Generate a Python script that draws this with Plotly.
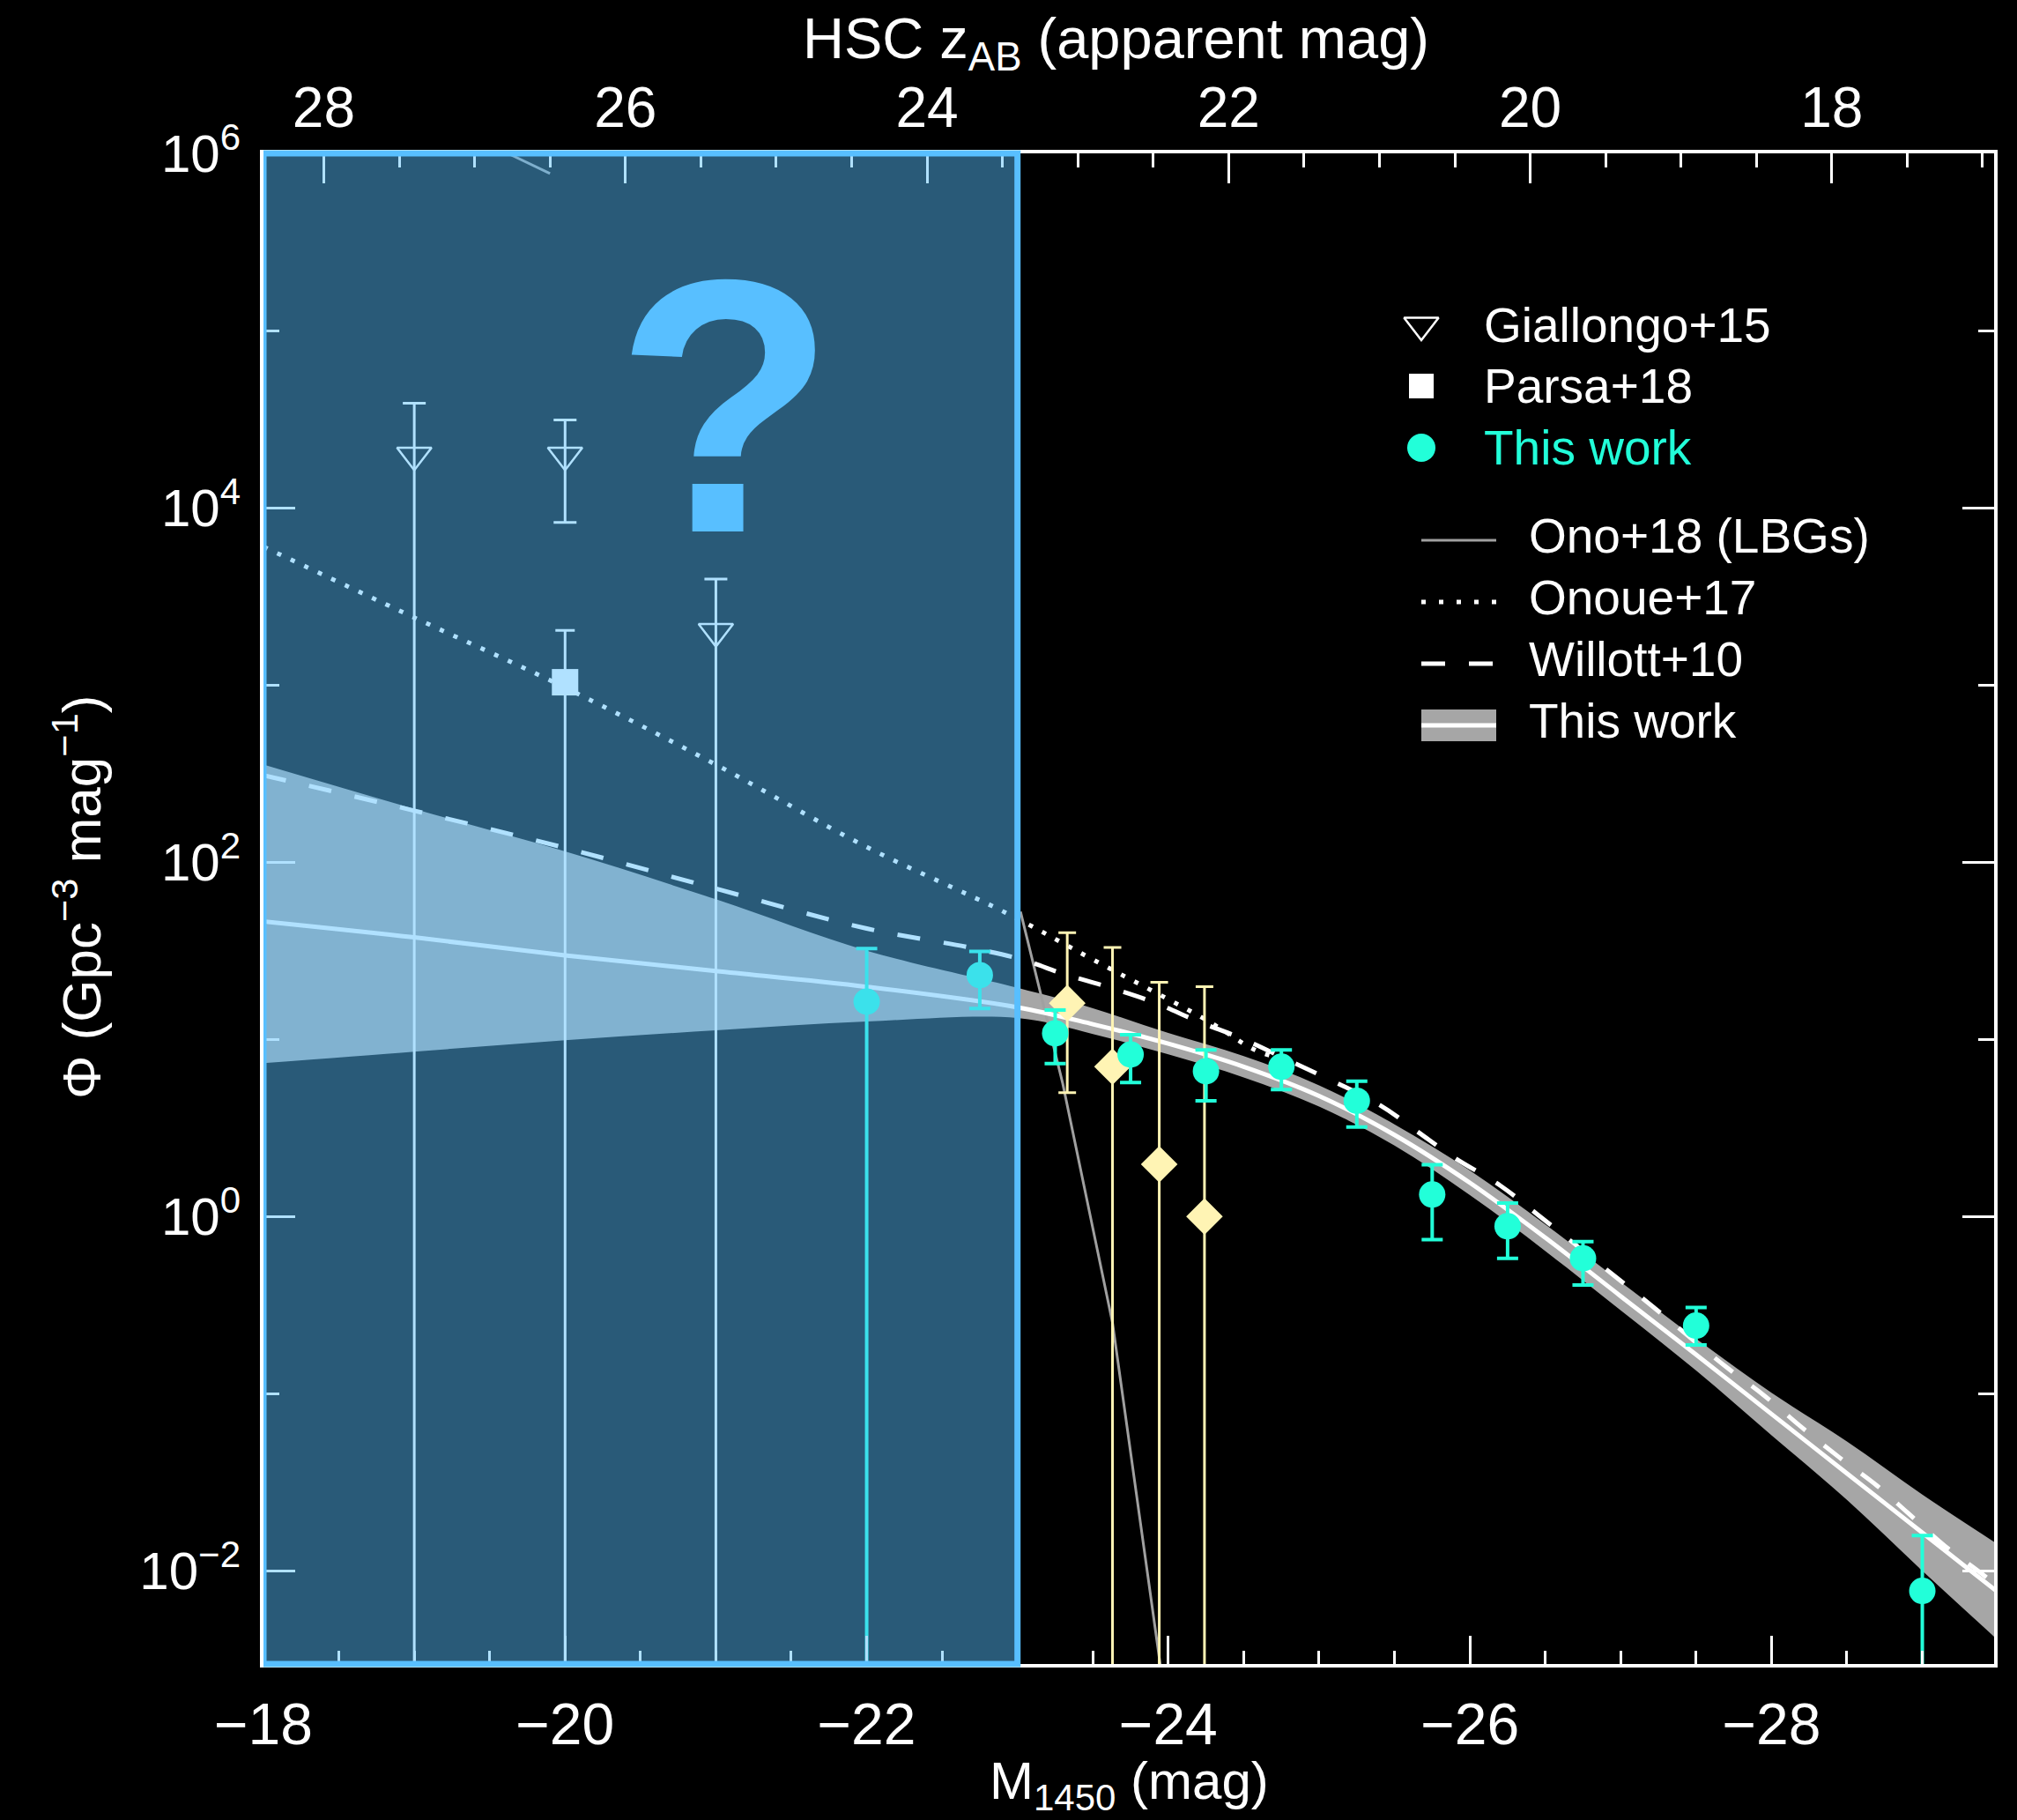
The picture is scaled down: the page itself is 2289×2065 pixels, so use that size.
import plotly.graph_objects as go

# ---------------- data ----------------
# This work: binned quasar LF (cyan)
tw_M   = [-22.0, -22.75, -23.25, -23.75, -24.25, -24.75, -25.25, -25.75, -26.25, -26.75, -27.5, -29.0]
tw_phi = [16.3, 23.0, 10.8, 8.2, 6.6, 7.0, 4.5, 1.33, 0.88, 0.58, 0.242, 0.0077]
tw_hi  = [32.5, 31.3, 14.6, 10.6, 8.7, 8.7, 5.8, 1.96, 1.19, 0.72, 0.306, 0.0158]
tw_lo  = [0.0, 14.9, 7.3, 5.7, 4.5, 5.2, 3.2, 0.74, 0.58, 0.41, 0.188, 0.0]

# unlabeled yellow diamonds
yd_M   = [-23.33, -23.63, -23.94, -24.24]
yd_phi = [16.0, 7.0, 1.97, 1.0]
yd_hi  = [40.0, 33.0, 21.0, 19.8]
yd_lo  = [5.0, 0.0, 0.0, 0.0]

# Giallongo+15
gi_M   = [-19.0, -20.0, -21.0]
gi_phi = [19800.0, 19800.0, 2000.0]
gi_hi  = [38900.0, 31300.0, 3960.0]
gi_lo  = [0.0, 8260.0, 0.0]

# Parsa+18
pa_M   = [-20.0]
pa_phi = [1035.0]
pa_hi  = [2030.0]
pa_lo  = [0.0]

# Onoue+17 (dotted), log10(phi)
on_M   = [-18.0, -19.0, -20.0, -21.0, -22.0, -22.92, -23.5, -24.25, -24.6, -24.82]
on_lg  = [3.78, 3.38, 2.985, 2.55, 2.085, 1.715, 1.45, 1.11, 0.93, 0.88]

# Willott+10 (dashed), log10(phi)
wi_M   = [-18.0, -19.0, -20.0, -21.0, -22.0, -22.7, -23.05, -23.3, -23.6, -23.9, -24.2, -24.5,
          -24.8, -25.4, -25.65, -25.9, -26.2, -26.45, -26.95, -27.2, -27.7, -27.95, -28.2,
          -28.45, -28.7, -28.9, -29.15, -29.4, -29.5]
wi_lg  = [2.49, 2.29, 2.08, 1.85, 1.625, 1.515, 1.445, 1.37, 1.295, 1.21, 1.10, 1.0,
          0.88, 0.63, 0.48, 0.33, 0.175, 0.01, -0.33, -0.50, -0.85, -1.01, -1.19,
          -1.36, -1.52, -1.67, -1.86, -2.02, -2.09]

# Ono+18 LBG LF (grey), log10(phi); None = gap
ono_M  = [-19.62, -19.90, None, -23.02, -23.30, -23.63, -23.95]
ono_lg = [6.0, 5.886, None, 1.72, 0.75, -0.60, -2.55]

# This work: fitted LF with uncertainty band, log10(phi)
bd_M   = [-18.0, -19.0, -20.0, -21.0, -22.0, -23.0, -23.5, -24.0, -24.5, -25.0, -25.5, -26.0,
          -26.5, -27.0, -27.5, -28.0, -28.5, -29.0, -29.5]
bd_top = [2.55, 2.30, 2.06, 1.79, 1.50, 1.29, 1.175, 1.035, 0.905, 0.74, 0.52, 0.26,
          -0.045, -0.37, -0.69, -0.995, -1.27, -1.57, -1.85]
bd_bot = [0.865, 0.93, 0.995, 1.05, 1.10, 1.12, 1.03, 0.915, 0.785, 0.62, 0.40, 0.12,
          -0.195, -0.53, -0.87, -1.235, -1.60, -2.00, -2.39]
bd_mid = [1.665, 1.575, 1.473, 1.385, 1.296, 1.18, 1.085, 0.975, 0.845, 0.68, 0.46, 0.19,
          -0.12, -0.45, -0.78, -1.115, -1.45, -1.785, -2.12]

# axes / ticks
x_ticks = [-18, -20, -22, -24, -26, -28]
top_ticks = [28, 26, 24, 22, 20, 18]
y_ticks_exp = [-2, 0, 2, 4, 6]
DIST_MOD = 46.4            # apparent = absolute + DIST_MOD
X_RANGE = [-18.0, -29.476]
Y_RANGE = [-2.526, 6.0]
UNKNOWN_RANGE = [-18.0, -23.0]

legend_items = ["Giallongo+15", "Parsa+18", "This work", "Ono+18 (LBGs)", "Onoue+17", "Willott+10", "This work"]

# ---------------- style ----------------
FONT = "Liberation Sans"
WHITE = "#ffffff"
CYAN = "#22ffd9"
YELLOW = "#fff4b4"
GREY_BAND = "#a6a6a6"
GREY_LINE = "#a0a0a0"
BOX_EDGE = "#58bfff"

def p10(v):
    return None if v is None else 10 ** v

def errs(phi, hi, lo):
    plus = [h - p for p, h in zip(phi, hi)]
    minus = [p - l for p, l in zip(phi, lo)]
    return plus, minus

fig = go.Figure()

# band
fig.add_trace(go.Scatter(x=bd_M, y=[p10(v) for v in bd_bot], mode="lines", line_shape="spline",
                         line=dict(width=0, color=GREY_BAND), showlegend=False, hoverinfo="skip"))
fig.add_trace(go.Scatter(x=bd_M, y=[p10(v) for v in bd_top], mode="lines", fill="tonexty", line_shape="spline",
                         fillcolor=GREY_BAND, line=dict(width=0, color=GREY_BAND),
                         showlegend=False, hoverinfo="skip"))

# model curves
fig.add_trace(go.Scatter(x=ono_M, y=[p10(v) for v in ono_lg], mode="lines", connectgaps=False,
                         line=dict(color=GREY_LINE, width=3), name="Ono+18 (LBGs)", showlegend=False))
fig.add_trace(go.Scatter(x=bd_M, y=[p10(v) for v in bd_mid], mode="lines", line_shape="spline",
                         line=dict(color=WHITE, width=5), name="This work", showlegend=False))
fig.add_trace(go.Scatter(x=on_M, y=[p10(v) for v in on_lg], mode="lines", line_shape="spline",
                         line=dict(color=WHITE, width=5, dash="5px,12px"), name="Onoue+17", showlegend=False))
fig.add_trace(go.Scatter(x=wi_M, y=[p10(v) for v in wi_lg], mode="lines", line_shape="spline",
                         line=dict(color=WHITE, width=5, dash="26px,27px"), name="Willott+10", showlegend=False))

# data points
pl, mi = errs(gi_phi, gi_hi, gi_lo)
fig.add_trace(go.Scatter(x=gi_M, y=gi_phi, mode="markers", name="Giallongo+15", showlegend=False,
                         marker=dict(symbol="triangle-down-open", size=34, color=WHITE, line=dict(width=2.5, color=WHITE)),
                         error_y=dict(type="data", array=pl, arrayminus=mi, color=WHITE, thickness=3, width=13)))
pl, mi = errs(pa_phi, pa_hi, pa_lo)
fig.add_trace(go.Scatter(x=pa_M, y=pa_phi, mode="markers", name="Parsa+18", showlegend=False,
                         marker=dict(symbol="square", size=30, color=WHITE),
                         error_y=dict(type="data", array=pl, arrayminus=mi, color=WHITE, thickness=3, width=11)))
pl, mi = errs(yd_phi, yd_hi, yd_lo)
fig.add_trace(go.Scatter(x=yd_M, y=yd_phi, mode="markers", showlegend=False,
                         marker=dict(symbol="diamond", size=32, color=YELLOW),
                         error_y=dict(type="data", array=pl, arrayminus=mi, color=YELLOW, thickness=3, width=10)))
pl, mi = errs(tw_phi, tw_hi, tw_lo)
fig.add_trace(go.Scatter(x=tw_M, y=tw_phi, mode="markers", name="This work", showlegend=False,
                         marker=dict(symbol="circle", size=30, color=CYAN),
                         error_y=dict(type="data", array=pl, arrayminus=mi, color=CYAN, thickness=4, width=12)))

# invisible trace so that the top (apparent-magnitude) axis is drawn
fig.add_trace(go.Scatter(x=[X_RANGE[0] + DIST_MOD, X_RANGE[1] + DIST_MOD], y=[1.0, 1.0], xaxis="x2", yaxis="y",
                         mode="markers", marker=dict(opacity=0, size=1), showlegend=False, hoverinfo="skip"))

# ---------------- manual legend (pixel-space overlay axes) ----------------
LX0, LX1 = 1613, 1698
TX_SYM, TX_LINE = 1682, 1733
rows_sym = [369, 438, 508]
rows_line = [613, 683, 753, 823]
fig.add_trace(go.Scatter(x=[LX0], y=[rows_sym[0]], xaxis="x3", yaxis="y3", mode="markers", showlegend=False,
                         hoverinfo="skip", marker=dict(symbol="triangle-down-open", size=34, color=WHITE,
                                                       line=dict(width=2.5, color=WHITE))))
fig.add_trace(go.Scatter(x=[LX0], y=[rows_sym[1]], xaxis="x3", yaxis="y3", mode="markers", showlegend=False,
                         hoverinfo="skip", marker=dict(symbol="square", size=28, color=WHITE)))
fig.add_trace(go.Scatter(x=[LX0], y=[rows_sym[2]], xaxis="x3", yaxis="y3", mode="markers", showlegend=False,
                         hoverinfo="skip", marker=dict(symbol="circle", size=32, color=CYAN)))
fig.add_trace(go.Scatter(x=[LX0, LX1], y=[rows_line[0]] * 2, xaxis="x3", yaxis="y3", mode="lines",
                         showlegend=False, hoverinfo="skip", line=dict(color=GREY_LINE, width=3)))
fig.add_trace(go.Scatter(x=[LX0, LX1], y=[rows_line[1]] * 2, xaxis="x3", yaxis="y3", mode="lines",
                         showlegend=False, hoverinfo="skip", line=dict(color=WHITE, width=5, dash="5px,15px")))
fig.add_trace(go.Scatter(x=[LX0, LX1], y=[rows_line[2]] * 2, xaxis="x3", yaxis="y3", mode="lines",
                         showlegend=False, hoverinfo="skip", line=dict(color=WHITE, width=5, dash="27px,27px")))
fig.add_trace(go.Scatter(x=[LX0, LX1], y=[rows_line[3]] * 2, xaxis="x3", yaxis="y3", mode="lines",
                         showlegend=False, hoverinfo="skip", line=dict(color=GREY_BAND, width=36)))
fig.add_trace(go.Scatter(x=[LX0, LX1], y=[rows_line[3]] * 2, xaxis="x3", yaxis="y3", mode="lines",
                         showlegend=False, hoverinfo="skip", line=dict(color=WHITE, width=5)))

annotations = []
leg_text_pos = [(TX_SYM, rows_sym[0], WHITE), (TX_SYM, rows_sym[1], WHITE), (TX_SYM, rows_sym[2], CYAN),
                (TX_LINE, rows_line[0] - 5, WHITE), (TX_LINE, rows_line[1] - 5, WHITE),
                (TX_LINE, rows_line[2] - 5, WHITE), (TX_LINE, rows_line[3] - 5, WHITE)]
for txt, (tx, ty, col) in zip(legend_items, leg_text_pos):
    annotations.append(dict(xref="x3", yref="y3", x=tx, y=ty, text=txt, showarrow=False,
                            xanchor="left", yanchor="middle", font=dict(family=FONT, size=55, color=col)))

# axis titles
annotations.append(dict(xref="paper", yref="paper", x=0.5, y=-0.080, text="M<sub>1450</sub> (mag)",
                        showarrow=False, xanchor="center", yanchor="middle",
                        font=dict(family=FONT, size=60, color=WHITE)))
annotations.append(dict(xref="paper", yref="paper", x=0.4925, y=1.073, text="HSC z<sub>AB</sub> (apparent mag)",
                        showarrow=False, xanchor="center", yanchor="middle",
                        font=dict(family=FONT, size=65, color=WHITE)))
annotations.append(dict(xref="paper", yref="paper", x=-0.1074, y=0.5076, text="Φ (Gpc<sup>−3</sup> mag<sup>−1</sup>)",
                        showarrow=False, xanchor="center", yanchor="middle", textangle=-90,
                        font=dict(family=FONT, size=62, color=WHITE)))
# question mark
annotations.append(dict(xref="x", yref="y", x=-21.06, y=4.57, text="?", showarrow=False,
                        xanchor="center", yanchor="middle",
                        font=dict(family=FONT, size=410, color=BOX_EDGE, weight="bold")))

shapes = [dict(type="rect", xref="x", yref="paper", x0=UNKNOWN_RANGE[0], x1=UNKNOWN_RANGE[1], y0=0, y1=1,
               fillcolor="rgba(88,191,255,0.47)", line=dict(color=BOX_EDGE, width=7), layer="above")]

def half_steps(a, b):
    out = []
    v = a
    while v >= b - 1e-9:
        out.append(round(v, 2))
        v -= 0.5
    return out

tick_common = dict(ticks="inside", tickcolor=WHITE, tickwidth=3, showgrid=False, zeroline=False,
                   showline=True, linecolor=WHITE, linewidth=4)

fig.update_layout(
    width=2289, height=2065,
    margin=dict(l=299, r=26, t=174, b=177),
    paper_bgcolor="black", plot_bgcolor="black",
    font=dict(family=FONT, color=WHITE),
    showlegend=False,
    xaxis=dict(range=X_RANGE, tickmode="array", tickvals=x_ticks,
               ticktext=["−%d" % abs(v) for v in x_ticks], ticklen=32,
               tickfont=dict(family=FONT, size=66, color=WHITE), ticklabelstandoff=8,
               minor=dict(tickmode="array", tickvals=half_steps(-18.0, -29.5), ticks="inside",
                          ticklen=15, tickwidth=3, tickcolor=WHITE, showgrid=False),
               mirror=False, **tick_common),
    xaxis2=dict(overlaying="x", side="top", anchor="y",
                range=[X_RANGE[0] + DIST_MOD, X_RANGE[1] + DIST_MOD],
                tickmode="array", tickvals=top_ticks, ticktext=[str(v) for v in top_ticks], ticklen=34,
                tickfont=dict(family=FONT, size=64, color=WHITE), ticklabelstandoff=0,
                minor=dict(tickmode="array", tickvals=half_steps(28.0, 17.0), ticks="inside",
                           ticklen=16, tickwidth=3, tickcolor=WHITE, showgrid=False),
                **tick_common),
    yaxis=dict(type="log", range=Y_RANGE, tickmode="array", tickvals=[10 ** e for e in y_ticks_exp],
               ticktext=["10<sup>%s</sup>" % (("−%d" % abs(e)) if e < 0 else str(e)) for e in y_ticks_exp],
               ticklen=36, tickfont=dict(family=FONT, size=60, color=WHITE), ticklabelstandoff=10,
               minor=dict(tickmode="array", tickvals=[10 ** e for e in [-1, 1, 3, 5]], ticks="inside",
                          ticklen=18, tickwidth=3, tickcolor=WHITE, showgrid=False),
               mirror="ticks", **tick_common),
    xaxis3=dict(overlaying="x", anchor="y3", range=[299, 2263], visible=False, fixedrange=True),
    yaxis3=dict(overlaying="y", anchor="x3", range=[1888, 174], visible=False, fixedrange=True),
    annotations=annotations,
    shapes=shapes,
)

fig.write_html("out.html")
